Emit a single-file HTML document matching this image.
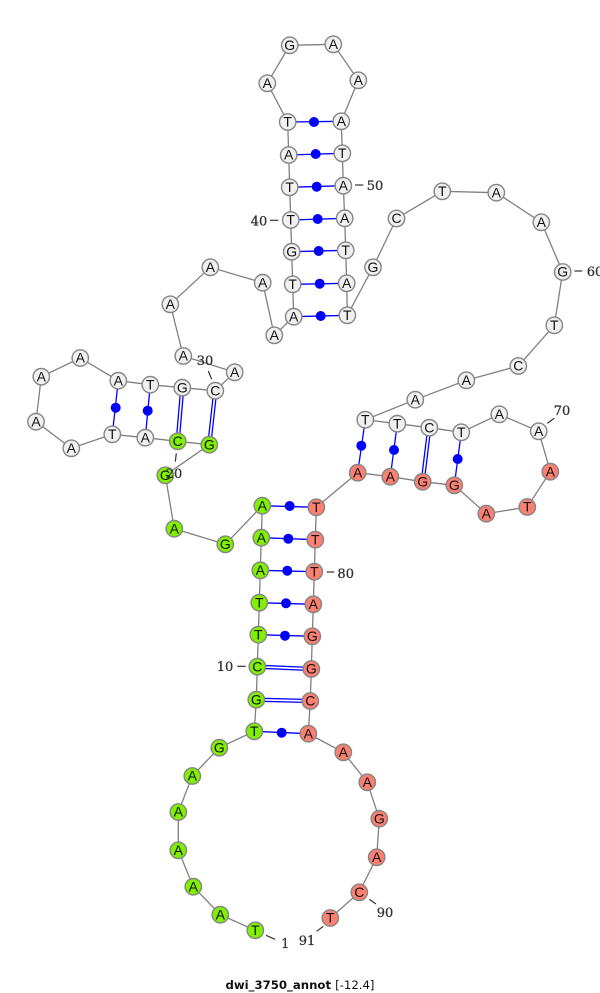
<!DOCTYPE html>
<html><head><meta charset="utf-8"><style>
html,body{margin:0;padding:0;background:#fff}
svg{display:block}
.n text{font:14px "Liberation Sans",sans-serif;fill:#111;text-anchor:middle}
.w circle{fill:#f0f0f0}.g circle{fill:#80f000}.r circle{fill:#fa8072}
circle{stroke:#858585;stroke-width:1.4}
.d circle{fill:#0000ff;stroke:none}
.l text{font:13px "DejaVu Serif",serif;fill:#333;stroke:#333;stroke-width:.3;text-anchor:middle}
.l line{stroke:#333;stroke-width:1.2}
.p line{stroke:#0000ff;stroke-width:1.3}
</style></head><body>
<svg width="600" height="993" viewBox="0 0 600 993" xmlns="http://www.w3.org/2000/svg">
<polyline fill="none" stroke="#808080" stroke-width="1.3" points="255.3,930.3 220.3,914.7 193.3,886.7 178.3,850.3 178.3,812 192.3,776 219.3,747.7 254.3,731.3 256.3,699.7 257.3,666.7 258.3,634.7 259.3,602.7 260.3,570.3 261.3,537.7 262.3,505.7 225.3,544.3 174.3,528.7 165.3,475.3 209.3,444.7 177.7,441.3 145.3,437.7 112.3,434.3 71.3,448.3 36,421.7 41.3,376.7 80.3,358 118.3,380.7 150.3,384.7 182.3,387.7 215.3,390.7 234.7,372.3 183.3,356 170.3,304.3 210.3,267.3 262.7,282.7 274.3,335.3 293.7,316.7 292.7,284.3 291.7,251.7 290.7,220 289.7,187.3 288.7,155 287.7,122 267.3,83.3 289.7,45.3 333.3,44.3 358.3,80.3 341.3,121.3 342.3,153.3 343.3,185.7 344.7,218.3 345.7,250.3 346.7,283.3 347.3,315.3 373,267.3 396.5,218.5 442.3,191.3 496.3,192.7 541.3,222.3 562.7,272 554.3,325.3 518.3,366 466.3,380.3 415.3,399.7 365.3,419.7 397.3,423.7 429.3,427.7 461.3,432.3 499.3,414.3 538.7,431.3 550.3,471.7 527.3,507 486.3,513.7 454.3,485.3 422.7,481.7 390.3,476.7 357.7,472.7 316.3,507.3 315.3,539.7 314.3,571.7 313.3,604.3 312.3,636.3 311.3,669 310.3,701 308.3,733.7 343.3,752.3 367.3,782.3 379.3,818.7 376.7,857.3 359.3,892.3 330.3,918"/>
<g class="p">
<line x1="254.3" y1="731.3" x2="308.3" y2="733.7"/>
<line x1="256.4" y1="698.2" x2="310.4" y2="699.5"/><line x1="256.2" y1="701.2" x2="310.2" y2="702.5"/>
<line x1="257.4" y1="665.2" x2="311.4" y2="667.5"/><line x1="257.2" y1="668.2" x2="311.2" y2="670.5"/>
<line x1="258.3" y1="634.7" x2="312.3" y2="636.3"/>
<line x1="259.3" y1="602.7" x2="313.3" y2="604.3"/>
<line x1="260.3" y1="570.3" x2="314.3" y2="571.7"/>
<line x1="261.3" y1="537.7" x2="315.3" y2="539.7"/>
<line x1="262.3" y1="505.7" x2="316.3" y2="507.3"/>
<line x1="209.3" y1="444.7" x2="215.3" y2="390.7" transform="translate(-1.5,0)"/><line x1="209.3" y1="444.7" x2="215.3" y2="390.7" transform="translate(1.5,0)"/>
<line x1="177.7" y1="441.3" x2="182.3" y2="387.7" transform="translate(-1.5,0)"/><line x1="177.7" y1="441.3" x2="182.3" y2="387.7" transform="translate(1.5,0)"/>
<line x1="145.3" y1="437.7" x2="150.3" y2="384.7"/>
<line x1="112.3" y1="434.3" x2="118.3" y2="380.7"/>
<line x1="293.7" y1="316.7" x2="347.3" y2="315.3"/>
<line x1="292.7" y1="284.3" x2="346.7" y2="283.3"/>
<line x1="291.7" y1="251.7" x2="345.7" y2="250.3"/>
<line x1="290.7" y1="220" x2="344.7" y2="218.3"/>
<line x1="289.7" y1="187.3" x2="343.3" y2="185.7"/>
<line x1="288.7" y1="155" x2="342.3" y2="153.3"/>
<line x1="287.7" y1="122" x2="341.3" y2="121.3"/>
<line x1="365.3" y1="419.7" x2="357.7" y2="472.7"/>
<line x1="397.3" y1="423.7" x2="390.3" y2="476.7"/>
<line x1="429.3" y1="427.7" x2="422.7" y2="481.7" transform="translate(-1.5,0)"/><line x1="429.3" y1="427.7" x2="422.7" y2="481.7" transform="translate(1.5,0)"/>
<line x1="461.3" y1="432.3" x2="454.3" y2="485.3"/>
</g>
<g class="d">
<circle cx="281.7" cy="732.7" r="5"/><circle cx="285" cy="635.7" r="5"/><circle cx="286" cy="603.3" r="5"/><circle cx="287.3" cy="570.7" r="5"/><circle cx="288.3" cy="538.7" r="5"/><circle cx="289.7" cy="506" r="5"/>
<circle cx="115.7" cy="407.7" r="5"/><circle cx="147.7" cy="410.7" r="5"/>
<circle cx="320.7" cy="316" r="5"/><circle cx="319.7" cy="283.7" r="5"/><circle cx="318.7" cy="251" r="5"/><circle cx="317.7" cy="219" r="5"/><circle cx="316.7" cy="186.7" r="5"/><circle cx="315.7" cy="154" r="5"/><circle cx="314" cy="122" r="5"/>
<circle cx="361.3" cy="445.7" r="5"/><circle cx="394" cy="450" r="5"/><circle cx="457.7" cy="459" r="5"/>
</g>
<g class="n g">
<circle cx="255.3" cy="930.3" r="8.2"/><text x="255.3" y="935">T</text>
<circle cx="220.3" cy="914.7" r="8.2"/><text x="220.3" y="919.4">A</text>
<circle cx="193.3" cy="886.7" r="8.2"/><text x="193.3" y="891.4">A</text>
<circle cx="178.3" cy="850.3" r="8.2"/><text x="178.3" y="855">A</text>
<circle cx="178.3" cy="812" r="8.2"/><text x="178.3" y="816.7">A</text>
<circle cx="192.3" cy="776" r="8.2"/><text x="192.3" y="780.7">A</text>
<circle cx="219.3" cy="747.7" r="8.2"/><text x="219.3" y="752.4">G</text>
<circle cx="254.3" cy="731.3" r="8.2"/><text x="254.3" y="736">T</text>
<circle cx="256.3" cy="699.7" r="8.2"/><text x="256.3" y="704.4">G</text>
<circle cx="257.3" cy="666.7" r="8.2"/><text x="257.3" y="671.4">C</text>
<circle cx="258.3" cy="634.7" r="8.2"/><text x="258.3" y="639.4">T</text>
<circle cx="259.3" cy="602.7" r="8.2"/><text x="259.3" y="607.4">T</text>
<circle cx="260.3" cy="570.3" r="8.2"/><text x="260.3" y="575">A</text>
<circle cx="261.3" cy="537.7" r="8.2"/><text x="261.3" y="542.4">A</text>
<circle cx="262.3" cy="505.7" r="8.2"/><text x="262.3" y="510.4">A</text>
<circle cx="225.3" cy="544.3" r="8.2"/><text x="225.3" y="549">G</text>
<circle cx="174.3" cy="528.7" r="8.2"/><text x="174.3" y="533.4">A</text>
<circle cx="165.3" cy="475.3" r="8.2"/><text x="165.3" y="480">G</text>
<circle cx="209.3" cy="444.7" r="8.2"/><text x="209.3" y="449.4">G</text>
<circle cx="177.7" cy="441.3" r="8.2"/><text x="177.7" y="446">C</text>
</g>
<g class="n w">
<circle cx="145.3" cy="437.7" r="8.2"/><text x="145.3" y="442.4">A</text>
<circle cx="112.3" cy="434.3" r="8.2"/><text x="112.3" y="439">T</text>
<circle cx="71.3" cy="448.3" r="8.2"/><text x="71.3" y="453">A</text>
<circle cx="36" cy="421.7" r="8.2"/><text x="36" y="426.4">A</text>
<circle cx="41.3" cy="376.7" r="8.2"/><text x="41.3" y="381.4">A</text>
<circle cx="80.3" cy="358" r="8.2"/><text x="80.3" y="362.7">A</text>
<circle cx="118.3" cy="380.7" r="8.2"/><text x="118.3" y="385.4">A</text>
<circle cx="150.3" cy="384.7" r="8.2"/><text x="150.3" y="389.4">T</text>
<circle cx="182.3" cy="387.7" r="8.2"/><text x="182.3" y="392.4">G</text>
<circle cx="215.3" cy="390.7" r="8.2"/><text x="215.3" y="395.4">C</text>
<circle cx="234.7" cy="372.3" r="8.2"/><text x="234.7" y="377">A</text>
<circle cx="183.3" cy="356" r="8.2"/><text x="183.3" y="360.7">A</text>
<circle cx="170.3" cy="304.3" r="8.2"/><text x="170.3" y="309">A</text>
<circle cx="210.3" cy="267.3" r="8.2"/><text x="210.3" y="272">A</text>
<circle cx="262.7" cy="282.7" r="8.2"/><text x="262.7" y="287.4">A</text>
<circle cx="274.3" cy="335.3" r="8.2"/><text x="274.3" y="340">A</text>
<circle cx="293.7" cy="316.7" r="8.2"/><text x="293.7" y="321.4">A</text>
<circle cx="292.7" cy="284.3" r="8.2"/><text x="292.7" y="289">T</text>
<circle cx="291.7" cy="251.7" r="8.2"/><text x="291.7" y="256.4">G</text>
<circle cx="290.7" cy="220" r="8.2"/><text x="290.7" y="224.7">T</text>
<circle cx="289.7" cy="187.3" r="8.2"/><text x="289.7" y="192">T</text>
<circle cx="288.7" cy="155" r="8.2"/><text x="288.7" y="159.7">A</text>
<circle cx="287.7" cy="122" r="8.2"/><text x="287.7" y="126.7">T</text>
<circle cx="267.3" cy="83.3" r="8.2"/><text x="267.3" y="88">A</text>
<circle cx="289.7" cy="45.3" r="8.2"/><text x="289.7" y="50">G</text>
<circle cx="333.3" cy="44.3" r="8.2"/><text x="333.3" y="49">A</text>
<circle cx="358.3" cy="80.3" r="8.2"/><text x="358.3" y="85">A</text>
<circle cx="341.3" cy="121.3" r="8.2"/><text x="341.3" y="126">A</text>
<circle cx="342.3" cy="153.3" r="8.2"/><text x="342.3" y="158">T</text>
<circle cx="343.3" cy="185.7" r="8.2"/><text x="343.3" y="190.4">A</text>
<circle cx="344.7" cy="218.3" r="8.2"/><text x="344.7" y="223">A</text>
<circle cx="345.7" cy="250.3" r="8.2"/><text x="345.7" y="255">T</text>
<circle cx="346.7" cy="283.3" r="8.2"/><text x="346.7" y="288">A</text>
<circle cx="347.3" cy="315.3" r="8.2"/><text x="347.3" y="320">T</text>
<circle cx="373" cy="267.3" r="8.2"/><text x="373" y="272">G</text>
<circle cx="396.5" cy="218.5" r="8.2"/><text x="396.5" y="223.2">C</text>
<circle cx="442.3" cy="191.3" r="8.2"/><text x="442.3" y="196">T</text>
<circle cx="496.3" cy="192.7" r="8.2"/><text x="496.3" y="197.4">A</text>
<circle cx="541.3" cy="222.3" r="8.2"/><text x="541.3" y="227">A</text>
<circle cx="562.7" cy="272" r="8.2"/><text x="562.7" y="276.7">G</text>
<circle cx="554.3" cy="325.3" r="8.2"/><text x="554.3" y="330">T</text>
<circle cx="518.3" cy="366" r="8.2"/><text x="518.3" y="370.7">C</text>
<circle cx="466.3" cy="380.3" r="8.2"/><text x="466.3" y="385">A</text>
<circle cx="415.3" cy="399.7" r="8.2"/><text x="415.3" y="404.4">A</text>
<circle cx="365.3" cy="419.7" r="8.2"/><text x="365.3" y="424.4">T</text>
<circle cx="397.3" cy="423.7" r="8.2"/><text x="397.3" y="428.4">T</text>
<circle cx="429.3" cy="427.7" r="8.2"/><text x="429.3" y="432.4">C</text>
<circle cx="461.3" cy="432.3" r="8.2"/><text x="461.3" y="437">T</text>
<circle cx="499.3" cy="414.3" r="8.2"/><text x="499.3" y="419">A</text>
<circle cx="538.7" cy="431.3" r="8.2"/><text x="538.7" y="436">A</text>
</g>
<g class="n r">
<circle cx="550.3" cy="471.7" r="8.2"/><text x="550.3" y="476.4">A</text>
<circle cx="527.3" cy="507" r="8.2"/><text x="527.3" y="511.7">T</text>
<circle cx="486.3" cy="513.7" r="8.2"/><text x="486.3" y="518.4">A</text>
<circle cx="454.3" cy="485.3" r="8.2"/><text x="454.3" y="490">G</text>
<circle cx="422.7" cy="481.7" r="8.2"/><text x="422.7" y="486.4">G</text>
<circle cx="390.3" cy="476.7" r="8.2"/><text x="390.3" y="481.4">A</text>
<circle cx="357.7" cy="472.7" r="8.2"/><text x="357.7" y="477.4">A</text>
<circle cx="316.3" cy="507.3" r="8.2"/><text x="316.3" y="512">T</text>
<circle cx="315.3" cy="539.7" r="8.2"/><text x="315.3" y="544.4">T</text>
<circle cx="314.3" cy="571.7" r="8.2"/><text x="314.3" y="576.4">T</text>
<circle cx="313.3" cy="604.3" r="8.2"/><text x="313.3" y="609">A</text>
<circle cx="312.3" cy="636.3" r="8.2"/><text x="312.3" y="641">G</text>
<circle cx="311.3" cy="669" r="8.2"/><text x="311.3" y="673.7">G</text>
<circle cx="310.3" cy="701" r="8.2"/><text x="310.3" y="705.7">C</text>
<circle cx="308.3" cy="733.7" r="8.2"/><text x="308.3" y="738.4">A</text>
<circle cx="343.3" cy="752.3" r="8.2"/><text x="343.3" y="757">A</text>
<circle cx="367.3" cy="782.3" r="8.2"/><text x="367.3" y="787">A</text>
<circle cx="379.3" cy="818.7" r="8.2"/><text x="379.3" y="823.4">G</text>
<circle cx="376.7" cy="857.3" r="8.2"/><text x="376.7" y="862">A</text>
<circle cx="359.3" cy="892.3" r="8.2"/><text x="359.3" y="897">C</text>
<circle cx="330.3" cy="918" r="8.2"/><text x="330.3" y="922.7">T</text>
</g>
<g class="l">
<line x1="266" y1="935.3" x2="275" y2="939.3"/><text x="285.3" y="948">1</text>
<line x1="316.7" y1="931.3" x2="323.3" y2="926.3"/><text x="307" y="945">91</text>
<line x1="369.3" y1="899.3" x2="376" y2="904"/><text x="385" y="917">90</text>
<line x1="237.3" y1="666.3" x2="245.7" y2="666.3"/><text x="225" y="671">10</text>
<line x1="326.7" y1="572" x2="334.3" y2="572"/><text x="345.7" y="578">80</text>
<line x1="547.3" y1="423.3" x2="554.3" y2="418.3"/><text x="562" y="415">70</text>
<line x1="574.3" y1="271" x2="582.3" y2="271"/><text x="595" y="276">60</text>
<line x1="355" y1="185" x2="363.3" y2="185"/><text x="375" y="190">50</text>
<line x1="270" y1="220.3" x2="278.3" y2="220.3"/><text x="259" y="225.7">40</text>
<line x1="208.3" y1="371" x2="211.7" y2="379.3"/><text x="205" y="365">30</text>
<line x1="176.3" y1="453.3" x2="175.3" y2="461.7"/><text x="174" y="478">20</text>
</g>
<text x="300" y="989" text-anchor="middle" style="font:bold 11.7px 'DejaVu Sans',sans-serif;fill:#111">dwi_3750_annot <tspan font-weight="normal">[-12.4]</tspan></text>
</svg>
</body></html>
